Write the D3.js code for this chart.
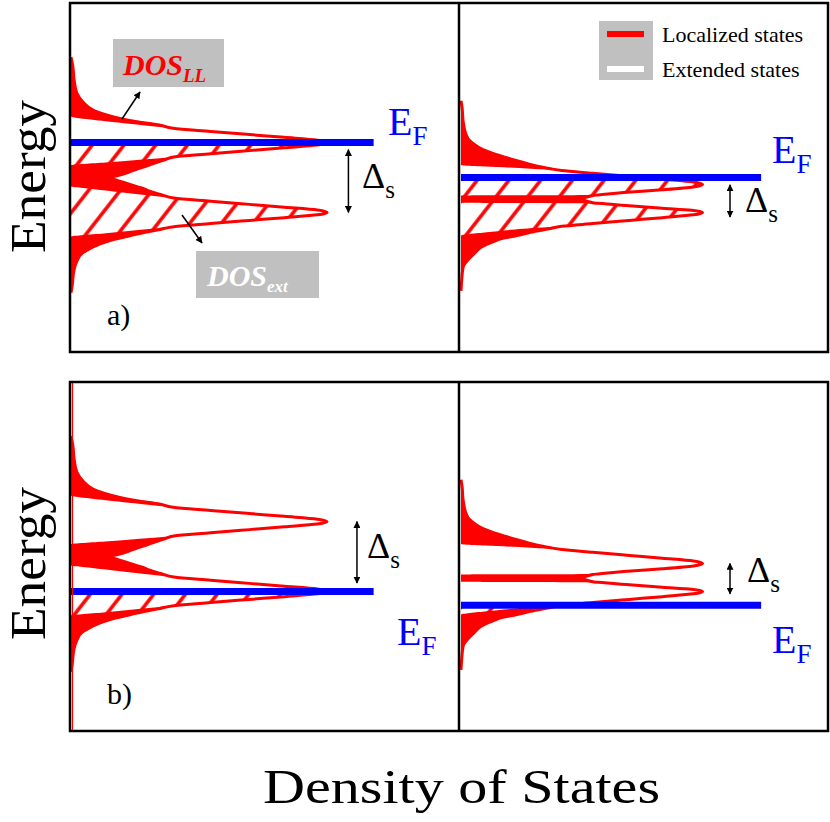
<!DOCTYPE html>
<html>
<head>
<meta charset="utf-8">
<script src="https://cdn.jsdelivr.net/npm/d3@7"></script>
<style>
body { margin: 0; background: #fff; }
svg { display: block; }
text { font-family: "Liberation Serif", "Times New Roman", serif; }
</style>
</head>
<body>
<svg id="chart" width="830" height="822"></svg>
<script>
'use strict';

// energy axis samples (0-100 per panel) and DOS values (0-100 of panel width)
// wide Landau level splitting, left column
var leftEnergy = [84.5, 82, 78, 74.2, 71.5, 69.3, 68.5, 67.5, 66.5, 66,
	65, 64.1, 63.2, 62.3, 61.5, 60.7, 60, 59.3, 58.5, 57.7,
	56.8, 55.9, 55.1, 54.3, 53.5, 52.5, 51.5, 50.5, 50, 49.5,
	48.5, 47.4, 47, 46, 45, 44.1, 43.2, 42.3, 41.5, 40.7,
	40, 39.3, 38.5, 37.7, 36.8, 35.9, 35, 34, 33, 32.1,
	31, 30, 28.4, 26, 23, 19, 17];
var leftTotal = [0, 0.45, 0.8, 1.5, 3.2, 5.7, 7.5, 10.5, 14.4, 17,
	23, 26.3, 36, 46, 55, 63.5, 66, 63.5, 55, 46,
	36, 26.5, 24.2, 22, 20, 17.2, 14.8, 11.8, 10, 11,
	13.8, 17, 18.2, 20.5, 23.5, 26.5, 36, 46, 55, 63.5,
	66, 63.5, 55, 46, 36, 26.5, 22.5, 18, 14, 10.5,
	7.5, 5.5, 3, 1.5, 0.7, 0.3, 0];
var leftExtended = [0, 0, 0, 0, 0, 0, 0, 0, 6, 10,
	18.5, 26.3, 36, 46, 55, 63.5, 66, 63.5, 55, 46,
	36, 26.5, 17.7, 8.8, 0, 0, 0, 0, 0, 0,
	0, 0, 3, 11, 19, 26.5, 36, 46, 55, 63.5,
	66, 63.5, 55, 46, 36, 26.5, 18, 9, 0, 0,
	0, 0, 0, 0, 0, 0, 0];

// narrow splitting, right column
var rightEnergy = [72, 70, 66, 62, 60.7, 60, 58, 57, 56,
	55, 54, 53.6, 53, 52.5, 52, 51.2, 50.3, 49.5, 48.7,
	48, 47.3, 46.5, 45.8, 45, 44.85, 43.8, 42.75, 42.6, 41.9,
	41.2, 40.6, 40, 39.3, 38.5, 37.7, 36.8, 36, 35.3, 34.3,
	33.3, 32.7, 31.5, 30, 28.4, 26.5, 24.4, 20, 17.5];
var rightTotal = [0, 0.3, 0.6, 1.5, 2.2, 3, 6, 8.5, 11.5,
	14.5, 18, 19.5, 22, 24.5, 27.5, 36, 46, 55, 63.5,
	66, 63.5, 55, 45.5, 37.5, 36, 33.5, 36, 37.5, 46,
	55, 63, 66, 63.5, 55, 46, 36, 27.5, 24, 19,
	15, 12, 8.5, 5.5, 3.8, 2, 0.6, 0.15, 0];
var rightExtended = [0, 0, 0, 0, 0, 0, 0, 0, 0,
	0, 0, 0, 10, 19, 27.5, 36, 46, 55, 63.5,
	66, 63.5, 55, 45.5, 37.5, 0, 0, 0, 37.5, 46,
	55, 63, 66, 63.5, 55, 46, 36, 27.5, 17, 7,
	0, 0, 0, 0, 0, 0, 0, 0, 0];

// panels: a-left, a-right, b-left, b-right
var panelDos = ['left', 'right', 'left', 'right'];
var fermiLevels = [60, 50, 40, 36];
var fermiLengths = [78, 82, 78, 82];
var splitArrows = [[58, 40], [47.9, 38.7], [60, 42.4], [48, 39.3]];
var splitArrowX = [71.5, 73.5, 73.7, 73.5];
var panelLabels = ['a)', null, 'b)', null];
var legendLabels = ['Localized states', 'Extended states'];

var dosSets = {
	left: leftEnergy.map(function(e, i) { return { e: e, t: leftTotal[i], x: leftExtended[i] }; }),
	right: rightEnergy.map(function(e, i) { return { e: e, t: rightTotal[i], x: rightExtended[i] }; })
};

var svg = d3.select('#chart');
var defs = svg.append('defs');

// hatching for occupied states
var hatch = defs.append('pattern')
	.attr('id', 'hatch')
	.attr('patternUnits', 'userSpaceOnUse')
	.attr('width', 25).attr('height', 25)
	.attr('patternTransform', 'rotate(38)');
hatch.append('line')
	.attr('x1', 12).attr('y1', -2).attr('x2', 12).attr('y2', 27)
	.attr('stroke', '#ff0000').attr('stroke-width', 3.5);

defs.append('marker')
	.attr('id', 'head')
	.attr('viewBox', '0 0 10 10')
	.attr('refX', 9).attr('refY', 5)
	.attr('markerWidth', 7).attr('markerHeight', 7)
	.attr('markerUnits', 'userSpaceOnUse')
	.attr('orient', 'auto-start-reverse')
	.append('path').attr('d', 'M0,0 L10,5 L0,10 Z').attr('fill', '#000');

var boxes = [
	{ x0: 71, x1: 459, y0: 3, y1: 352 },
	{ x0: 461, x1: 827, y0: 3, y1: 352 },
	{ x0: 71, x1: 459, y0: 382, y1: 731 },
	{ x0: 461, x1: 827, y0: 382, y1: 731 }
];

boxes.forEach(function(b, i) {
	var data = dosSets[panelDos[i]];
	var xScale = d3.scaleLinear().domain([0, 100]).range([b.x0, b.x1]);
	var yScale = d3.scaleLinear().domain([0, 100]).range([b.y1, b.y0]);
	var g = svg.append('g').attr('class', 'panel');

	var totalArea = d3.area()
		.y(function(d) { return yScale(d.e); })
		.x0(xScale(0))
		.x1(function(d) { return xScale(d.t); })
		.curve(d3.curveMonotoneY);
	var extArea = d3.area()
		.y(function(d) { return yScale(d.e); })
		.x0(xScale(0))
		.x1(function(d) { return xScale(d.x); })
		.curve(d3.curveMonotoneY);
	var outline = d3.line()
		.x(function(d) { return xScale(d.t); })
		.y(function(d) { return yScale(d.e); })
		.curve(d3.curveMonotoneY);

	// localized states: everything under the total DOS
	g.append('path').attr('d', totalArea(data)).attr('fill', '#ff0000');
	// extended states cut out in white
	g.append('path').attr('d', extArea(data)).attr('fill', '#fff');

	// hatch the filled states below E_F
	defs.append('clipPath').attr('id', 'dos' + i)
		.append('path').attr('d', totalArea(data));
	defs.append('clipPath').attr('id', 'occ' + i)
		.append('rect')
		.attr('x', b.x0).attr('y', yScale(fermiLevels[i]))
		.attr('width', b.x1 - b.x0).attr('height', b.y1 - yScale(fermiLevels[i]));
	g.append('g').attr('clip-path', 'url(#occ' + i + ')')
		.append('rect')
		.attr('clip-path', 'url(#dos' + i + ')')
		.attr('x', b.x0).attr('y', b.y0)
		.attr('width', b.x1 - b.x0).attr('height', b.y1 - b.y0)
		.attr('fill', 'url(#hatch)');

	g.append('path').attr('d', outline(data))
		.attr('fill', 'none').attr('stroke', '#ff0000').attr('stroke-width', 3);

	// Fermi level
	g.append('line')
		.attr('x1', xScale(0)).attr('x2', xScale(fermiLengths[i]))
		.attr('y1', yScale(fermiLevels[i])).attr('y2', yScale(fermiLevels[i]))
		.attr('stroke', '#0000ff').attr('stroke-width', 7);

	// splitting arrow
	g.append('line')
		.attr('x1', xScale(splitArrowX[i])).attr('x2', xScale(splitArrowX[i]))
		.attr('y1', yScale(splitArrows[i][0])).attr('y2', yScale(splitArrows[i][1]))
		.attr('stroke', '#000').attr('stroke-width', 1.5)
		.attr('marker-start', 'url(#head)').attr('marker-end', 'url(#head)');

	if (panelLabels[i]) {
		g.append('text')
			.attr('x', b.x0 + 36).attr('y', b.y1 - 27)
			.attr('font-size', 30).text(panelLabels[i]);
	}
});

// thin red edge seen along the lower left panel
svg.append('line').attr('x1', 72.5).attr('x2', 72.5).attr('y1', 383).attr('y2', 730)
	.attr('stroke', '#ff0000').attr('stroke-width', 1.2);

// annotations: E_F and Delta_s
var efPos = [[388, 135], [772, 163], [397, 645], [772, 653]];
efPos.forEach(function(p) {
	var t = svg.append('text').attr('x', p[0]).attr('y', p[1])
		.attr('fill', '#0000ff').attr('font-size', 40);
	t.append('tspan').text('E');
	t.append('tspan').attr('font-size', 27).attr('dy', 10).text('F');
});
var dsPos = [[362, 188], [745, 212], [367, 558], [747, 582]];
dsPos.forEach(function(p) {
	var t = svg.append('text').attr('x', p[0]).attr('y', p[1])
		.attr('fill', '#000').attr('font-size', 36);
	t.append('tspan').text('\u0394');
	t.append('tspan').attr('font-size', 25).attr('dy', 10).text('s');
});

// DOS labels with arrows
svg.append('rect').attr('x', 113).attr('y', 39).attr('width', 111).attr('height', 48).attr('fill', '#c0c0c0');
var ll = svg.append('text').attr('x', 123).attr('y', 75)
	.attr('font-size', 30).attr('font-weight', 'bold').attr('font-style', 'italic').attr('fill', '#ff0000');
ll.append('tspan').text('DOS');
ll.append('tspan').attr('font-size', 19).attr('dy', 7).text('LL');

svg.append('rect').attr('x', 196).attr('y', 251).attr('width', 123).attr('height', 47).attr('fill', '#c0c0c0');
var ex = svg.append('text').attr('x', 207).attr('y', 286)
	.attr('font-size', 30).attr('font-weight', 'bold').attr('font-style', 'italic').attr('fill', '#fff');
ex.append('tspan').text('DOS');
ex.append('tspan').attr('font-size', 17).attr('dy', 6).text('ext');

svg.append('line').attr('x1', 122).attr('y1', 119).attr('x2', 140).attr('y2', 92)
	.attr('stroke', '#000').attr('stroke-width', 1.5).attr('marker-end', 'url(#head)');
svg.append('line').attr('x1', 182).attr('y1', 215).attr('x2', 202).attr('y2', 243)
	.attr('stroke', '#000').attr('stroke-width', 1.5).attr('marker-end', 'url(#head)');

// legend
svg.append('rect').attr('x', 599).attr('y', 21).attr('width', 54).attr('height', 59).attr('fill', '#c0c0c0');
svg.selectAll('.legend-swatch').data(legendLabels).enter().append('line')
	.attr('class', 'legend-swatch')
	.attr('x1', 607).attr('x2', 644)
	.attr('y1', function(d, i) { return 34 + i * 35; })
	.attr('y2', function(d, i) { return 34 + i * 35; })
	.attr('stroke', function(d, i) { return i === 0 ? '#ff0000' : '#fff'; })
	.attr('stroke-width', 6);
svg.selectAll('.legend-text').data(legendLabels).enter().append('text')
	.attr('class', 'legend-text')
	.attr('x', 662)
	.attr('y', function(d, i) { return 42 + i * 35; })
	.attr('font-size', 22)
	.text(function(d) { return d; });

// frames
[[70, 3], [70, 382]].forEach(function(p) {
	svg.append('rect').attr('x', p[0]).attr('y', p[1]).attr('width', 758).attr('height', 349)
		.attr('fill', 'none').attr('stroke', '#000').attr('stroke-width', 2.5);
	svg.append('line').attr('x1', 459).attr('x2', 459).attr('y1', p[1]).attr('y2', p[1] + 349)
		.attr('stroke', '#000').attr('stroke-width', 2.5);
});

// axis titles
[176.5, 563.5].forEach(function(cy) {
	svg.append('text')
		.attr('transform', 'translate(45,' + cy + ') rotate(-90)')
		.attr('text-anchor', 'middle')
		.attr('font-size', 50)
		.attr('textLength', 153).attr('lengthAdjust', 'spacingAndGlyphs')
		.text('Energy');
});
svg.append('text')
	.attr('x', 263).attr('y', 803)
	.attr('font-size', 48)
	.attr('textLength', 397).attr('lengthAdjust', 'spacingAndGlyphs')
	.text('Density of States');
</script>
</body>
</html>
